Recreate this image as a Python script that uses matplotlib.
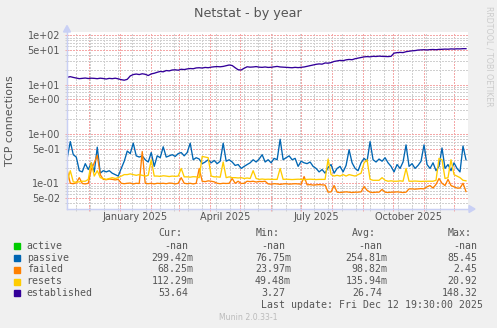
import matplotlib
matplotlib.use('Agg')
import matplotlib.pyplot as plt
from matplotlib.lines import Line2D
from matplotlib.patches import Polygon
from matplotlib.ticker import FixedLocator, NullFormatter
import pandas as pd

# daily averages, one sample every 3 days from 2024-11-09
established = [14.1, 14.5, 14.0, 13.6, 13.2, 13.4, 13.6, 13.3, 13.5, 13.4,
               13.2, 13.5, 13.3, 13.0, 13.4, 13.2, 13.5, 13.1, 12.6, 12.3,
               12.8, 15.0, 16.0, 16.4, 16.0, 16.6, 16.2, 15.3, 16.5, 17.0,
               17.8, 18.5, 18.2, 19.3, 19.0, 19.8, 20.0, 19.6, 20.5, 20.2,
               20.8, 21.2, 21.0, 21.8, 22.0, 21.7, 22.3, 22.0, 22.6, 23.0,
               23.2, 23.0, 23.4, 24.2, 25.0, 24.4, 22.0, 20.0, 19.8, 21.5,
               23.0, 22.6, 22.8, 23.2, 22.6, 22.4, 22.8, 22.3, 22.5, 23.0,
               23.4, 22.8, 22.6, 22.4, 22.2, 22.0, 22.4, 22.1, 22.5, 22.8,
               23.5, 24.2, 25.0, 25.8, 26.3, 26.0, 27.5, 27.2, 28.0, 29.5,
               30.2, 31.0, 30.6, 31.8, 32.4, 32.0, 33.5, 34.5, 35.5, 36.5,
               37.0, 36.6, 37.5, 37.2, 37.8, 37.4, 37.2, 37.0, 37.5, 43.5,
               44.5, 45.0, 44.6, 46.5, 47.5, 48.5, 49.0, 50.2, 50.6, 51.0,
               50.5, 51.2, 51.5, 51.0, 51.8, 52.0, 52.5, 52.2, 53.0, 52.6,
               53.2, 53.0, 53.6, 53.6]

passive = [0.33, 0.70, 0.38, 0.34, 0.18, 0.17, 0.25, 0.19, 0.26, 0.17,
           0.54, 0.16, 0.18, 0.17, 0.18, 0.16, 0.15, 0.14, 0.20, 0.28,
           0.45, 0.40, 0.65, 0.36, 0.34, 0.36, 0.30, 0.27, 0.42, 0.22,
           0.36, 0.33, 0.55, 0.34, 0.36, 0.38, 0.35, 0.40, 0.42, 0.36,
           0.42, 0.65, 0.30, 0.33, 0.31, 0.25, 0.27, 0.30, 0.26, 0.29,
           0.25, 0.28, 0.65, 0.28, 0.30, 0.27, 0.23, 0.24, 0.20, 0.22,
           0.24, 0.26, 0.30, 0.27, 0.31, 0.38, 0.27, 0.30, 0.26, 0.32,
           0.30, 0.78, 0.30, 0.33, 0.36, 0.30, 0.32, 0.22, 0.28, 0.26,
           0.25, 0.27, 0.22, 0.20, 0.17, 0.19, 0.16, 0.21, 0.24, 0.16,
           0.20, 0.22, 0.17, 0.23, 0.48, 0.26, 0.20, 0.18, 0.26, 0.32,
           0.28, 0.70, 0.30, 0.27, 0.31, 0.28, 0.33, 0.26, 0.22, 0.17,
           0.24, 0.20, 0.27, 0.60, 0.22, 0.25, 0.20, 0.23, 0.28, 0.60,
           0.24, 0.20, 0.26, 0.18, 0.22, 0.52, 0.20, 0.24, 0.18, 0.26,
           0.20, 0.17, 0.57, 0.30]

failed = [0.18, 0.10, 0.098, 0.102, 0.13, 0.099, 0.097, 0.10, 0.19, 0.26,
          0.37, 0.15, 0.12, 0.118, 0.122, 0.12, 0.117, 0.12, 0.10, 0.098,
          0.10, 0.101, 0.097, 0.10, 0.099, 0.44, 0.10, 0.098, 0.10, 0.097,
          0.10, 0.099, 0.10, 0.098, 0.101, 0.10, 0.097, 0.10, 0.13, 0.10,
          0.098, 0.10, 0.097, 0.10, 0.20, 0.11, 0.108, 0.112, 0.11, 0.107,
          0.10, 0.098, 0.10, 0.099, 0.10, 0.125, 0.10, 0.11, 0.099, 0.10,
          0.11, 0.108, 0.11, 0.106, 0.109, 0.108, 0.11, 0.097, 0.096, 0.098,
          0.097, 0.095, 0.097, 0.098, 0.096, 0.097, 0.098, 0.097, 0.096, 0.137,
          0.093, 0.094, 0.092, 0.093, 0.094, 0.093, 0.092, 0.066, 0.067, 0.09,
          0.066, 0.065, 0.066, 0.067, 0.066, 0.065, 0.066, 0.066, 0.067, 0.086,
          0.072, 0.066, 0.065, 0.066, 0.066, 0.075, 0.066, 0.065, 0.066, 0.066,
          0.067, 0.066, 0.065, 0.066, 0.077, 0.077, 0.076, 0.077, 0.078, 0.077,
          0.085, 0.09, 0.08, 0.095, 0.125, 0.10, 0.09, 0.12, 0.09, 0.085,
          0.08, 0.08, 0.10, 0.068]

resets = [0.11, 0.18, 0.107, 0.105, 0.107, 0.11, 0.11, 0.12, 0.26, 0.14,
          0.18, 0.13, 0.125, 0.12, 0.125, 0.13, 0.125, 0.13, 0.14, 0.15,
          0.15, 0.155, 0.15, 0.145, 0.15, 0.145, 0.14, 0.145, 0.30, 0.14,
          0.14, 0.138, 0.142, 0.14, 0.137, 0.14, 0.138, 0.14, 0.20, 0.135,
          0.135, 0.133, 0.136, 0.135, 0.13, 0.35, 0.34, 0.33, 0.14, 0.135,
          0.135, 0.133, 0.27, 0.13, 0.135, 0.13, 0.13, 0.128, 0.13, 0.125,
          0.128, 0.125, 0.18, 0.125, 0.12, 0.122, 0.12, 0.121, 0.12, 0.12,
          0.12, 0.20, 0.12, 0.121, 0.12, 0.119, 0.12, 0.121, 0.12, 0.118,
          0.12, 0.121, 0.12, 0.119, 0.12, 0.12, 0.12, 0.31, 0.15, 0.14,
          0.145, 0.14, 0.15, 0.14, 0.15, 0.145, 0.14, 0.15, 0.16, 0.26,
          0.30, 0.12, 0.115, 0.115, 0.115, 0.13, 0.115, 0.11, 0.112, 0.11,
          0.11, 0.112, 0.11, 0.20, 0.11, 0.11, 0.111, 0.11, 0.109, 0.11,
          0.11, 0.11, 0.11, 0.115, 0.32, 0.30, 0.125, 0.13, 0.30, 0.15,
          0.14, 0.13, 0.115, 0.112]

names = ['active', 'passive', 'failed', 'resets', 'established']
colors = ['#00CC00', '#0066B3', '#FF8000', '#FFCC00', '#330099']
cur_vals = ['-nan', '299.42m', '68.25m', '112.29m', '53.64']
min_vals = ['-nan', '76.75m', '23.97m', '49.48m', '3.27']
avg_vals = ['-nan', '254.81m', '98.82m', '135.94m', '26.74']
max_vals = ['-nan', '85.45', '2.45', '20.92', '148.32']
month_labels = ['January 2025', 'April 2025', 'July 2025', 'October 2025']

W, H = 497, 328
L, R, T, B = 67, 468, 31.5, 209
TXT = '#555555'
AXC = '#C9D0F5'
MGRID = '#F4A8A8'
GRID = '#D0D0D0'


def px(x, y):
    return x / W, 1 - y / H


fig = plt.figure(figsize=(W / 100, H / 100), dpi=100, facecolor='#F0F0F0')
ax = fig.add_axes([L / W, 1 - B / H, (R - L) / W, (B - T) / H])
ax.set_facecolor('white')

series = [(passive, colors[1]), (failed, colors[2]), (resets, colors[3]),
          (established, colors[4])]
for vals, c in series:
    dates = pd.date_range('2024-11-09', periods=len(vals), freq='3D')
    ax.plot(dates, vals, color=c, lw=0.95)

ax.set_yscale('log')
ax.set_ylim(0.0301, 119.4)
ax.set_xlim(pd.Timestamp('2024-11-08 17:00'), pd.Timestamp('2025-12-15'))

# y grid: red at 1 and 5 per decade, grey elsewhere
major_y = [0.05, 0.1, 0.5, 1, 5, 10, 50, 100]
minor_y = [k * 10.0 ** n for n in range(-2, 3) for k in (2, 3, 4, 6, 7, 8, 9)]
ax.yaxis.set_major_locator(FixedLocator(major_y))
ax.yaxis.set_minor_locator(FixedLocator(minor_y))
ax.yaxis.set_minor_formatter(NullFormatter())
ax.set_yticklabels([f'{v:.0e}' for v in major_y])

months = pd.date_range('2024-12-01', '2025-12-01', freq='MS')
weeks = pd.date_range('2024-11-18', '2025-12-14', freq='14D')
ax.set_xticks(months)
ax.set_xticks(weeks, minor=True)
ax.set_xticklabels([])

ax.grid(which='major', color=MGRID, lw=1.0, ls=(0, (1, 1)), antialiased=False)
ax.grid(which='minor', color=GRID, lw=1.0, ls=(0, (1, 1)), antialiased=False)
ax.set_axisbelow(True)

ax.tick_params(which='major', direction='inout', length=3, width=0.72,
               color=MGRID, labelsize=7, labelcolor=TXT, pad=3.5)
ax.tick_params(which='minor', direction='inout', length=2.5, width=0.72,
               color=GRID)

for s in ('top', 'right'):
    ax.spines[s].set_visible(False)
for s in ('left', 'bottom'):
    ax.spines[s].set_color(AXC)
    ax.spines[s].set_linewidth(0.9)

for lab, m in zip(month_labels, ['2025-01-16', '2025-04-16', '2025-07-16', '2025-10-16']):
    ax.text(pd.Timestamp(m), -8.5 / (B - T), lab, transform=ax.get_xaxis_transform(),
            ha='center', va='center', fontsize=7, color=TXT)

# axis arrows
fig.add_artist(Line2D([L / W, 470 / W], [1 - B / H] * 2, color=AXC, lw=0.9))
fig.add_artist(Line2D([L / W] * 2, [1 - B / H, 1 - 30 / H], color=AXC, lw=0.9))
fig.add_artist(Polygon([px(469, 205.5), px(469, 212.5), px(475, 209)],
                       closed=True, color=AXC, transform=fig.transFigure))
fig.add_artist(Polygon([px(63.5, 32), px(70.5, 32), px(67, 25.5)],
                       closed=True, color=AXC, transform=fig.transFigure))

fig.text(*px(248, 13.5), 'Netstat - by year', ha='center', va='center',
         fontsize=9.2, color=TXT)
fig.text(*px(10, 120.5), 'TCP connections', ha='center', va='center',
         rotation=90, fontsize=7.9, color=TXT)
fig.text(*px(489, 56), 'RRDTOOL / TOBI OETIKER', ha='center', va='center',
         rotation=270, fontsize=5.7, color='#CCCCCC')

# legend table
mono = 'DejaVu Sans Mono'
fs = 7.1
for hx, h in zip([158.3, 255.7, 351.7, 447.7], ['Cur:', 'Min:', 'Avg:', 'Max:']):
    fig.text(*px(hx, 233.3), h, ha='left', va='center', family=mono,
             fontsize=fs, color=TXT)

col_right = [193.5, 291.0, 387.5, 483.3]
row_y = [245.7, 257.7, 269.5, 281.5, 293.3]
for i, (name, c) in enumerate(zip(names, colors)):
    y = row_y[i]
    fig.add_artist(Polygon([px(14, y - 3), px(20, y - 3), px(20, y + 3), px(14, y + 3)],
                           closed=True, color=c, transform=fig.transFigure))
    fig.text(*px(26.7, y), name, ha='left', va='center', family=mono,
             fontsize=fs, color=TXT)
    for xr, col in zip(col_right, [cur_vals, min_vals, avg_vals, max_vals]):
        v = col[i]
        xe = xr if v.endswith('m') else xr - 5.6
        fig.text(*px(xe, y), v, ha='right', va='center', family=mono,
                 fontsize=fs, color=TXT)

fig.text(*px(483.3, 305.3), 'Last update: Fri Dec 12 19:30:00 2025', ha='right',
         va='center', family=mono, fontsize=fs, color=TXT)
fig.text(*px(248.7, 317), 'Munin 2.0.33-1', ha='center', va='center',
         fontsize=5.6, color='#BBBBBB')

fig.savefig('out.png', dpi=100, facecolor=fig.get_facecolor())
